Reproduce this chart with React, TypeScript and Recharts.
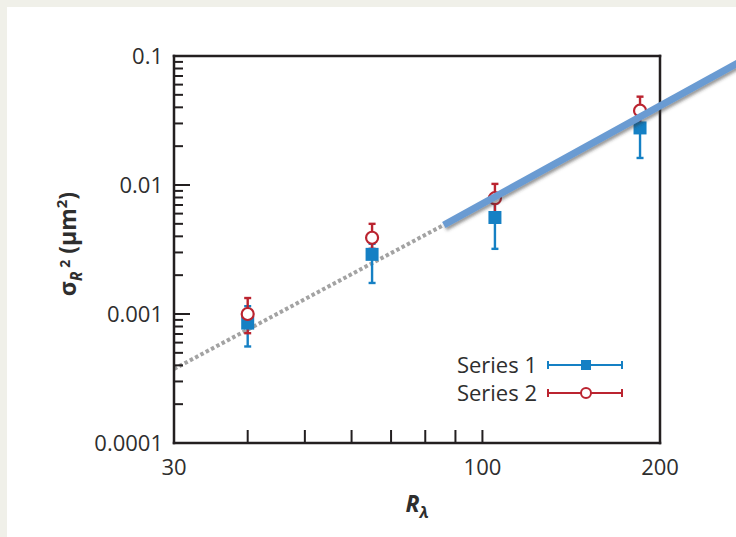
import React from "react";
import {
  ComposedChart,
  XAxis,
  YAxis,
  Scatter,
  ErrorBar,
  ReferenceLine,
  Legend,
} from "recharts";

// Reynolds numbers of the four runs
const reynolds = [40, 65, 105, 185];

// Series 1 (filled squares): value and error bounds
const series1 = [0.00085, 0.0029, 0.0056, 0.0277];
const series1Low = [0.00056, 0.00174, 0.0032, 0.0162];
const series1High = [0.00115, 0.0035, 0.0072, 0.036];

// Series 2 (open circles): value and error bounds
const series2 = [0.001, 0.0039, 0.0079, 0.0377];
const series2Low = [0.00071, 0.0032, 0.00545, 0.0267];
const series2High = [0.00133, 0.005, 0.0102, 0.0484];

// Power-law guide lines (dotted part, then the solid fit)
const dottedFitX = [30, 86];
const dottedFitY = [0.000375, 0.0049];
const solidFitX = [86, 280];
const solidFitY = [0.0049, 0.096];

// Axis ticks
const xTicks = [30, 40, 50, 60, 70, 80, 90, 100, 200];
const xTickLabels = [30, 100, 200];
const yDecades = [0.0001, 0.001, 0.01];
const yMinorSteps = [1, 2, 3, 4, 5, 6, 7, 8, 9];
const yTicks = [...yDecades.flatMap((d) => yMinorSteps.map((s) => d * s)), 0.1];

const AXIS = "#231f20";
const TEXT = "#2e2e2e";
const FONT = "'Open Sans', sans-serif";
const BLUE = "#1580c4";
const RED = "#bb2430";

const toPoints = (vals: number[], lo: number[], hi: number[]) =>
  reynolds.map((r, i) => ({
    x: r,
    y: vals[i],
    err: [vals[i] - lo[i], hi[i] - vals[i]],
  }));

const data1 = toPoints(series1, series1Low, series1High);
const data2 = toPoints(series2, series2Low, series2High);

const isDecade = (v: number) =>
  Math.abs(Math.log10(v) - Math.round(Math.log10(v))) < 1e-6;

const BottomTick = ({ x, y, payload }: any) => (
  <g>
    <line x1={x} x2={x} y1={y} y2={y - 13} stroke={AXIS} strokeWidth={2} />
    {xTickLabels.includes(payload.value) && (
      <text x={x} y={y + 32} textAnchor="middle" fill={TEXT} fontSize={22} fontFamily={FONT}>
        {payload.value}
      </text>
    )}
  </g>
);

const TopTick = ({ x, y }: any) => (
  <line x1={x} x2={x} y1={y} y2={y + 13} stroke={AXIS} strokeWidth={2} />
);

const LeftTick = ({ x, y, payload }: any) => {
  const major = isDecade(payload.value);
  return (
    <g>
      <line x1={x} x2={x + (major ? 16 : 9)} y1={y} y2={y} stroke={AXIS} strokeWidth={2} />
      {major && (
        <text x={x - 11} y={y + 8} textAnchor="end" fill={TEXT} fontSize={22} fontFamily={FONT}>
          {String(payload.value)}
        </text>
      )}
    </g>
  );
};

const RightTick = ({ x, y, payload }: any) => {
  const major = isDecade(payload.value);
  return <line x1={x} x2={x - (major ? 16 : 9)} y1={y} y2={y} stroke={AXIS} strokeWidth={2} />;
};

const SquareDot = ({ cx, cy }: any) => (
  <rect x={cx - 6.5} y={cy - 6.5} width={13} height={13} fill={BLUE} />
);

const CircleDot = ({ cx, cy }: any) => (
  <circle cx={cx} cy={cy} r={6} fill="#fff" stroke={RED} strokeWidth={2.2} />
);

const LegendRow = ({ y, label, color, filled }: any) => (
  <g>
    <text x={97} y={y + 8} textAnchor="end" fill={TEXT} fontSize={22} fontFamily={FONT}>
      {label}
    </text>
    <line x1={108} x2={182} y1={y} y2={y} stroke={color} strokeWidth={2} />
    <line x1={108} x2={108} y1={y - 4} y2={y + 4} stroke={color} strokeWidth={2} />
    <line x1={182} x2={182} y1={y - 4} y2={y + 4} stroke={color} strokeWidth={2} />
    {filled ? (
      <rect x={141} y={y - 5} width={10} height={10} fill={color} />
    ) : (
      <circle cx={146} cy={y} r={5} fill="#fff" stroke={color} strokeWidth={2} />
    )}
  </g>
);

const LegendBox = () => (
  <svg width={200} height={64}>
    <LegendRow y={20} label="Series 1" color={BLUE} filled />
    <LegendRow y={48} label="Series 2" color={RED} />
  </svg>
);

const axisLineStyle = { stroke: AXIS, strokeWidth: 2.5, strokeLinecap: "square" };

export default function App() {
  return (
    <div
      style={{
        position: "absolute",
        left: 0,
        top: 0,
        width: 736,
        height: 537,
        background: "#f0f0e9",
        overflow: "hidden",
      }}
    >
      <div
        style={{
          position: "absolute",
          left: 7,
          top: 7,
          width: 740,
          height: 540,
          background: "#ffffff",
        }}
      />
      <div style={{ position: "absolute", left: 0, top: 0 }}>
        <ComposedChart
          width={736}
          height={537}
          margin={{ top: 55, right: 75, bottom: 93, left: 173 }}
        >
          <defs>
            <filter
              id="fitShadow"
              filterUnits="userSpaceOnUse"
              x={0}
              y={0}
              width={800}
              height={600}
            >
              <feDropShadow dx={1.5} dy={2.5} stdDeviation={1.5} floodColor="#333" floodOpacity={0.5} />
            </filter>
          </defs>
          <XAxis
            xAxisId="bottom"
            dataKey="x"
            type="number"
            scale="log"
            domain={[30, 200]}
            ticks={xTicks}
            interval={0}
            height={1}
            tickLine={false}
            tickSize={0}
            tickMargin={0}
            tick={<BottomTick />}
            axisLine={axisLineStyle}
          />
          <XAxis
            xAxisId="top"
            orientation="top"
            dataKey="x"
            type="number"
            scale="log"
            domain={[30, 200]}
            ticks={xTicks}
            interval={0}
            height={1}
            tickLine={false}
            tickSize={0}
            tickMargin={0}
            tick={<TopTick />}
            axisLine={axisLineStyle}
          />
          <YAxis
            yAxisId="left"
            dataKey="y"
            type="number"
            scale="log"
            domain={[0.0001, 0.1]}
            ticks={yTicks}
            interval={0}
            width={1}
            tickLine={false}
            tickSize={0}
            tickMargin={0}
            tick={<LeftTick />}
            axisLine={axisLineStyle}
          />
          <YAxis
            yAxisId="right"
            orientation="right"
            dataKey="y"
            type="number"
            scale="log"
            domain={[0.0001, 0.1]}
            ticks={yTicks}
            interval={0}
            width={1}
            tickLine={false}
            tickSize={0}
            tickMargin={0}
            tick={<RightTick />}
            axisLine={axisLineStyle}
          />
          <ReferenceLine
            xAxisId="bottom"
            yAxisId="left"
            segment={[
              { x: dottedFitX[0], y: dottedFitY[0] },
              { x: dottedFitX[1], y: dottedFitY[1] },
            ]}
            stroke="#a3a3a3"
            strokeWidth={4}
            strokeDasharray="3.5 2.5"
            ifOverflow="visible"
          />
          <Scatter
            xAxisId="bottom"
            yAxisId="left"
            name="Series 1"
            data={data1}
            shape={<SquareDot />}
            isAnimationActive={false}
          >
            <ErrorBar dataKey="err" direction="y" width={3.5} stroke={BLUE} strokeWidth={2.4} />
          </Scatter>
          <Scatter
            xAxisId="bottom"
            yAxisId="left"
            name="Series 2"
            data={data2}
            shape={<CircleDot />}
            isAnimationActive={false}
          >
            <ErrorBar dataKey="err" direction="y" width={3.5} stroke={RED} strokeWidth={2.4} />
          </Scatter>
          <ReferenceLine
            xAxisId="bottom"
            yAxisId="left"
            segment={[
              { x: solidFitX[0], y: solidFitY[0] },
              { x: solidFitX[1], y: solidFitY[1] },
            ]}
            stroke="#6a9bd2"
            strokeWidth={7}
            filter="url(#fitShadow)"
            ifOverflow="visible"
            zIndex={900}
          />
          <Legend
            layout="vertical"
            align="center"
            verticalAlign="middle"
            wrapperStyle={{ left: 440, top: 345, width: 200, height: 64 }}
            content={() => <LegendBox />}
          />
          <text
            transform="rotate(-90)"
            x={-244}
            y={76}
            textAnchor="middle"
            fill={TEXT}
            fontFamily={FONT}
            fontSize={23}
            fontWeight="bold"
          >
            <tspan>σ</tspan>
            <tspan fontSize={16} fontStyle="italic" dy={6}>R</tspan>
            <tspan fontSize={14} dy={-12}> 2</tspan>
            <tspan dy={6}> (μm</tspan>
            <tspan fontSize={15} dy={-9}>2</tspan>
            <tspan dy={9}>)</tspan>
          </text>
          <text
            x={417}
            y={512}
            textAnchor="middle"
            fill={TEXT}
            fontFamily={FONT}
            fontSize={23}
            fontWeight="bold"
            fontStyle="italic"
          >
            R
            <tspan fontSize={16} dy={6}>λ</tspan>
          </text>
        </ComposedChart>
      </div>
    </div>
  );
}
